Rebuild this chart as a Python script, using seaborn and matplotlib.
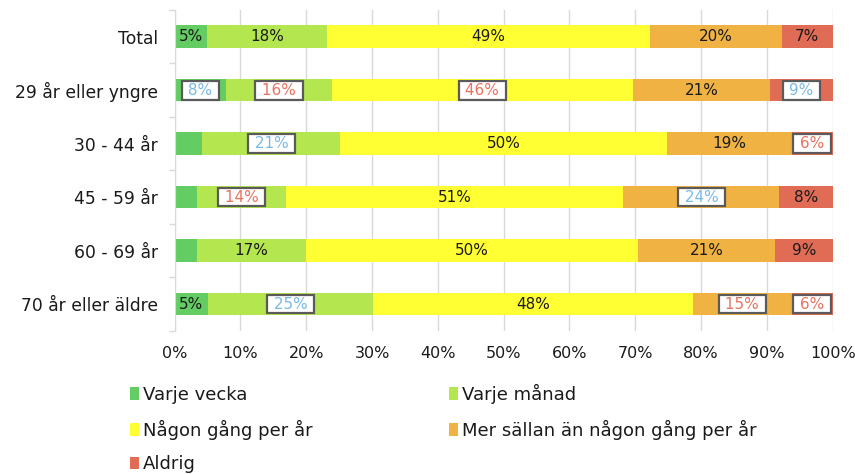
import numpy as np
import pandas as pd
import seaborn as sns
import matplotlib.pyplot as plt
from matplotlib.patches import Patch

groups = ['Total', '29 år eller yngre', '30 - 44 år', '45 - 59 år',
          '60 - 69 år', '70 år eller äldre']
answers = ['Varje vecka', 'Varje månad', 'Någon gång per år',
           'Mer sällan än någon gång per år', 'Aldrig']
colors = ['#63cd63', '#b4e64f', '#ffff33', '#f0b343', '#e06c56']

# share per answer, one value per group
varje_vecka = [4.9, 7.8, 4.2, 3.4, 3.4, 5.1]
varje_manad = [18.3, 16.1, 21.0, 13.5, 16.6, 25.1]
nagon_gang = [49.0, 45.7, 49.6, 51.3, 50.4, 48.5]
mer_sallan = [20.1, 20.9, 19.0, 23.7, 20.8, 15.1]
aldrig = [7.7, 9.5, 6.2, 8.1, 8.8, 6.2]

# printed labels (None = no label shown)
labels = [
    [5, 18, 49, 20, 7],
    [8, 16, 46, 21, 9],
    [None, 21, 50, 19, 6],
    [None, 14, 51, 24, 8],
    [None, 17, 50, 21, 9],
    [5, 25, 48, 15, 6],
]
# n = plain text, b = blue boxed, r = red boxed
styles = [
    'nnnnn',
    'brrnb',
    'nbnnr',
    'nrnbn',
    'nnnnn',
    'nbnrr',
]

plt.rcParams['font.family'] = ['DejaVu Sans']
vals = np.array([varje_vecka, varje_manad, nagon_gang, mer_sallan, aldrig]).T
cum = vals.cumsum(axis=1)

fig = plt.figure(figsize=(8.55, 4.74), dpi=100)
ax = fig.add_axes([0.2043, 0.302, 0.9739 - 0.2043, 0.979 - 0.302])

# stacked bars: draw cumulative totals from the back
for j in range(len(answers) - 1, -1, -1):
    df = pd.DataFrame({'group': groups, 'value': cum[:, j]})
    sns.barplot(data=df, x='value', y='group', color=colors[j], saturation=1,
                width=0.42, linewidth=0, orient='h', ax=ax)

text_col = {'n': '#1a1a1a', 'b': '#7ab9e6', 'r': '#e8735f'}
for i in range(len(groups)):
    for j in range(len(answers)):
        lab = labels[i][j]
        if lab is None:
            continue
        xc = cum[i, j] - vals[i, j] / 2
        st = styles[i][j]
        if st == 'n':
            ax.text(xc, i, f'{lab}%', ha='center', va='center', fontsize=11,
                    color=text_col[st])
        else:
            ax.text(xc, i, f' {lab}% ', ha='center', va='center', fontsize=11,
                    color=text_col[st],
                    bbox=dict(boxstyle='square,pad=0.12', fc='white',
                              ec='#5a5a5a', lw=1.6))

ax.set_xlim(0, 100)
ax.set_ylim(5.5, -0.5)
ax.set_xticks(range(0, 101, 10))
ax.set_xticklabels([f'{v}%' for v in range(0, 101, 10)])
ax.set_xlabel('')
ax.set_ylabel('')
ax.set_yticks(np.arange(-0.5, 6, 1), minor=True)
ax.tick_params(axis='x', length=0, pad=11, labelsize=11.5, labelcolor='#1a1a1a')
ax.tick_params(axis='y', which='major', length=0, pad=12, labelsize=12.3,
               labelcolor='#1a1a1a')
ax.tick_params(axis='y', which='minor', length=4, color='#d9d9d9', width=1)
ax.xaxis.grid(True, color='#d9d9d9', lw=1)
ax.set_axisbelow(True)
for s in ['top', 'right', 'bottom']:
    ax.spines[s].set_visible(False)
ax.spines['left'].set_color('#d9d9d9')

# legend: two columns, second column starts at x = 449 px
fs = 13
fs_px = fs * 100 / 72
hl, hp = 0.5, 0.2
probe = fig.text(0, 0, answers[2], fontsize=fs)
fig.canvas.draw()
w1 = probe.get_window_extent().width
probe.remove()
colspace = (449 - 130 - (hl + hp) * fs_px - w1) / fs_px

handles = [Patch(facecolor=c, edgecolor='none', label=a) for a, c in zip(answers, colors)]
order = [0, 2, 4, 1, 3]
fig.legend(handles=[handles[k] for k in order], ncol=2, frameon=False,
           fontsize=fs, handlelength=hl, handleheight=0.7, handletextpad=hp,
           labelspacing=0.86, columnspacing=colspace, borderpad=0,
           borderaxespad=0, loc='upper left', labelcolor='#1a1a1a',
           bbox_to_anchor=(130 / 855, 1 - 384 / 474))

fig.savefig('out.png', dpi=100)
